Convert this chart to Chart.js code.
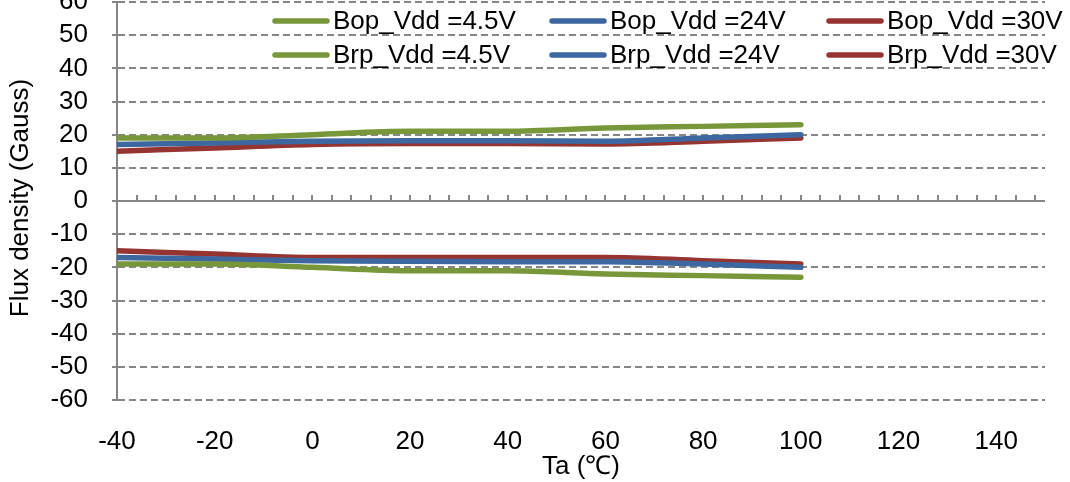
<!DOCTYPE html>
<html>
<head>
<meta charset="utf-8">
<title>Bop / Brp vs Ta</title>
<script src="https://cdn.jsdelivr.net/npm/chart.js@4.4.1/dist/chart.umd.min.js"></script>
<style>
  html, body { margin: 0; padding: 0; background: #fff; }
  #wrap { width: 1070px; height: 482px; position: relative; }
</style>
</head>
<body>
<div id="wrap"><canvas id="fluxChart"></canvas></div>
<script>
// Temperature points (Ta, in degrees C)
const temps = [-40, -20, 0, 20, 40, 60, 80, 100];

// Operate points (Gauss)
const bop45 = [19, 19, 20, 21, 21, 22, 22.5, 23];
const bop24 = [17, 17.5, 18, 18.2, 18.2, 18, 19, 20];
const bop30 = [15, 16, 17, 17.3, 17.3, 17.2, 18, 19];

// Release points (Gauss)
const brp45 = [-19, -19, -20, -21, -21, -22, -22.5, -23];
const brp24 = [-17, -17.5, -18, -18.2, -18.3, -18.3, -19, -20];
const brp30 = [-15, -16, -17, -17, -17, -17, -18, -19];

// Axis tick labels
const xTicks = [-40, -20, 0, 20, 40, 60, 80, 100, 120, 140];
const yTicks = [-60, -50, -40, -30, -20, -10, 0, 10, 20, 30, 40, 50, 60];

const seriesLabels = [
  "Bop_Vdd =4.5V", "Bop_Vdd =24V", "Bop_Vdd =30V",
  "Brp_Vdd =4.5V", "Brp_Vdd =24V", "Brp_Vdd =30V"
];

const GREEN = "#77973a";
const BLUE = "#3d67a0";
const RED = "#963432";
const AXIS_GREY = "#868686";
const FONT = "'Liberation Sans', Arial, sans-serif";

function makeSet(label, values, color) {
  return {
    label: label,
    data: temps.map((t, i) => ({ x: t, y: values[i] })),
    borderColor: color,
    backgroundColor: color,
    borderWidth: 5.5,
    borderCapStyle: "round",
    pointRadius: 0,
    fill: false,
    cubicInterpolationMode: "monotone",
  };
}

// Zero line with the small upward minor ticks every 4 units
const zeroAxis = {
  id: "zeroAxis",
  beforeDatasetsDraw(chart) {
    const { ctx, chartArea, scales } = chart;
    const y0 = Math.round(scales.y.getPixelForValue(0));
    ctx.save();
    ctx.setLineDash([]);
    ctx.strokeStyle = AXIS_GREY;
    ctx.lineWidth = 2;
    ctx.beginPath();
    ctx.moveTo(chartArea.left, y0);
    ctx.lineTo(chartArea.right, y0);
    ctx.stroke();

    ctx.beginPath();
    for (let v = -36; v < 150; v += 4) {
      const x = Math.round(scales.x.getPixelForValue(v));
      ctx.moveTo(x, y0);
      ctx.lineTo(x, y0 - 6);
    }
    ctx.stroke();
    ctx.restore();
  },
};

// Axis titles and the 3x2 legend block
const labelsPlugin = {
  id: "labelsPlugin",
  afterDraw(chart) {
    const { ctx, chartArea } = chart;
    ctx.save();
    ctx.setLineDash([]);
    ctx.fillStyle = "#000";
    ctx.font = "26px " + FONT;
    ctx.textAlign = "center";
    ctx.textBaseline = "middle";

    ctx.fillText("Ta (\u2103)", (chartArea.left + chartArea.right) / 2, 467);

    ctx.save();
    ctx.translate(21, 198);
    ctx.rotate(-Math.PI / 2);
    ctx.fillText("Flux density (Gauss)", 0, 0);
    ctx.restore();

    const colX = [273, 550, 827];
    const rowY = [21, 55];
    ctx.textAlign = "left";
    chart.data.datasets.forEach((ds, i) => {
      const col = i % 3;
      const row = Math.floor(i / 3);
      const x = colX[col];
      const y = rowY[row];
      ctx.strokeStyle = ds.borderColor;
      ctx.lineWidth = 5.5;
      ctx.lineCap = "round";
      ctx.beginPath();
      ctx.moveTo(x + 2, y);
      ctx.lineTo(x + 54, y);
      ctx.stroke();
      ctx.fillText(ds.label, x + 60, y + 1);
    });
    ctx.restore();
  },
};

const ctx = document.getElementById("fluxChart").getContext("2d");

new Chart(ctx, {
  type: "line",
  data: {
    datasets: [
      makeSet(seriesLabels[0], bop45, GREEN),
      makeSet(seriesLabels[1], bop24, BLUE),
      makeSet(seriesLabels[2], bop30, RED),
      makeSet(seriesLabels[3], brp45, GREEN),
      makeSet(seriesLabels[4], brp24, BLUE),
      makeSet(seriesLabels[5], brp30, RED),
    ],
  },
  options: {
    responsive: true,
    maintainAspectRatio: false,
    animation: false,
    layout: { padding: { left: 0, right: 25, top: 2, bottom: 0 } },
    plugins: {
      legend: { display: false },
      tooltip: { enabled: false },
      title: { display: false },
    },
    scales: {
      x: {
        type: "linear",
        min: -40,
        max: 150,
        border: { display: false },
        grid: { display: false, drawTicks: false },
        afterBuildTicks(scale) {
          scale.ticks = xTicks.map((v) => ({ value: v }));
        },
        afterFit(scale) {
          scale.height = 82;
          scale.paddingLeft = 0;
          scale.paddingRight = 0;
        },
        ticks: {
          padding: 26,
          maxRotation: 0,
          autoSkip: false,
          color: "#000",
          font: { family: FONT, size: 26 },
        },
      },
      y: {
        min: -60,
        max: 60,
        border: { display: true, color: AXIS_GREY, width: 2, dash: [7, 4] },
        grid: {
          color: (c) => (c.tick && c.tick.value === 0 ? "rgba(0,0,0,0)" : AXIS_GREY),
          lineWidth: 2,
          drawTicks: true,
          tickLength: 5,
          tickColor: AXIS_GREY,
          tickBorderDash: [],
        },
        afterBuildTicks(scale) {
          scale.ticks = yTicks.map((v) => ({ value: v }));
        },
        afterFit(scale) {
          scale.width = 117;
          scale.paddingTop = 0;
          scale.paddingBottom = 0;
        },
        ticks: {
          autoSkip: false,
          padding: 24,
          color: "#000",
          font: { family: FONT, size: 26 },
        },
      },
    },
  },
  plugins: [zeroAxis, labelsPlugin],
});
</script>
</body>
</html>
